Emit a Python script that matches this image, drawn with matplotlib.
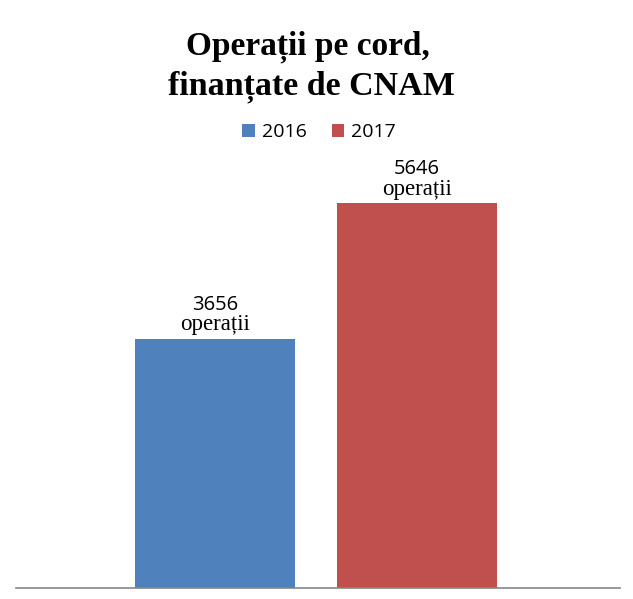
import matplotlib.pyplot as plt

# Data
years = ["2016", "2017"]
operations = [3656, 5646]
colors = ["#4F81BD", "#C0504D"]

fig = plt.figure(figsize=(6.33, 5.99), dpi=100)
ax = fig.add_axes([16 / 633, 1 - 588 / 599, 604 / 633, 409 / 599])

positions = list(range(len(years)))
bars = ax.bar(positions, operations, width=0.796, color=colors, label=years)

for bar, val in zip(bars, operations):
    cx = bar.get_x() + bar.get_width() / 2
    top = bar.get_height()
    ax.annotate(str(val), (cx, top), xytext=(0, 34), textcoords="offset pixels",
                ha="center", va="center", fontsize=14.5, family="Open Sans")
    ax.annotate("operații", (cx, top), xytext=(0, 14), textcoords="offset pixels",
                ha="center", va="center", fontsize=16.5, family="Liberation Serif")

ax.set_xlim(-0.99, 2.01)
ax.set_ylim(0, 6000)
for side in ["top", "right", "left"]:
    ax.spines[side].set_visible(False)
ax.spines["bottom"].set_color("#868686")
ax.spines["bottom"].set_linewidth(1.2)
ax.set_xticks([])
ax.set_yticks([])

fig.text(308 / 633, 1 - 55 / 599, "Operații pe cord,", ha="center", va="baseline",
         fontsize=24, fontweight="bold", family="Liberation Serif")
fig.text(311 / 633, 1 - 95 / 599, "finanțate de CNAM", ha="center", va="baseline",
         fontsize=24.5, fontweight="bold", family="Liberation Serif")

fig.legend(bars, years, loc="center", bbox_to_anchor=(319 / 633, 1 - 132 / 599),
           ncol=2, frameon=False, handlelength=0.65, handleheight=0.65,
           handletextpad=0.35, columnspacing=1.3, prop={"family": "Open Sans", "size": 14})

plt.savefig("out.png", dpi=100)
plt.close()
